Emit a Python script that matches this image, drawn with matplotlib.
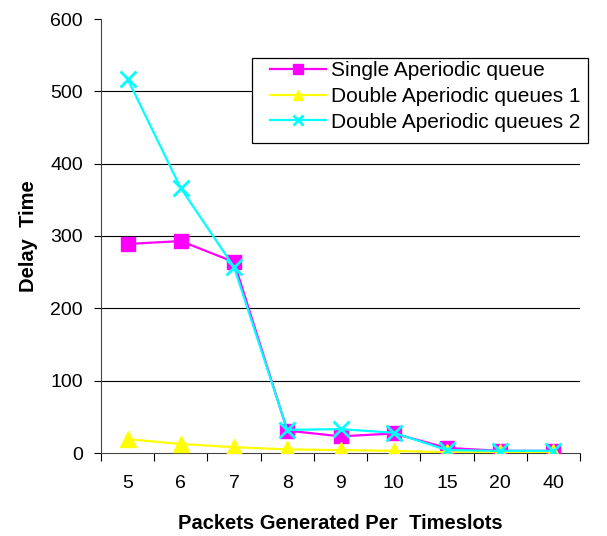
import numpy as np
import matplotlib.pyplot as plt
from matplotlib.patches import Rectangle

categories = ['5', '6', '7', '8', '9', '10', '15', '20', '40']
single_q = [289, 293, 264, 31, 23, 27, 7, 3, 3]
double_q1 = [19, 12.5, 8, 5, 4, 3, 1, 1, 1]
double_q2 = [517, 366, 257, 32, 33, 28, 4, 3, 3]

plt.rcParams['font.family'] = ['Liberation Sans', 'DejaVu Sans']

W, H = 607, 536
fig = plt.figure(figsize=(W / 100, H / 100), dpi=100)
ax = fig.add_axes([101 / W, 1 - 453 / H, 479 / W, 434 / H])

x = np.arange(len(categories))
ax.plot(x, single_q, color='#ff00ff', marker='s', markersize=10, lw=1.6,
        label='Single Aperiodic queue', zorder=3)
ax.plot(x, double_q1, color='#ffff00', marker='^', markersize=11, lw=1.6,
        label='Double Aperiodic queues 1', zorder=3)
ax.plot(x, double_q2, color='#00ffff', marker='x', markersize=11, mew=2, lw=1.6,
        label='Double Aperiodic queues 2', zorder=4)

# horizontal gridlines (none at the top)
for v in [100, 200, 300, 400, 500]:
    ax.axhline(v, color='black', lw=0.8, zorder=1)

ax.set_xlim(-0.5, len(categories) - 0.5)
ax.set_ylim(0, 600)
ax.set_yticks(np.arange(0, 601, 100))
ax.set_xticks(x)
ax.set_xticklabels(categories)
ax.set_xticks(np.arange(-0.5, len(categories)), minor=True)
ax.tick_params(axis='x', which='major', length=0, pad=16, labelsize=14)
ax.tick_params(axis='x', which='minor', length=6, direction='out', width=0.8)
ax.tick_params(axis='y', length=5, width=0.8, pad=8, labelsize=14)

for s in ['top', 'right']:
    ax.spines[s].set_visible(False)
for s in ['left', 'bottom']:
    ax.spines[s].set_linewidth(0.8)
    ax.spines[s].set_color('#444444')

ax.set_xlabel('Packets Generated Per  Timeslots', fontsize=14.5, fontweight='bold', labelpad=16)
ax.set_ylabel('Delay  Time', fontsize=14.5, fontweight='bold', labelpad=9)

# legend box
box = Rectangle((252 / W, 1 - 143 / H), 336 / W, 85 / H, transform=fig.transFigure,
                facecolor='white', edgecolor='black', lw=0.9, zorder=5, clip_on=False)
ax.add_patch(box)
leg = ax.legend(loc='upper left', bbox_to_anchor=(270 / W, 1 - 61 / H),
                bbox_transform=fig.transFigure, fontsize=15, frameon=False,
                borderpad=0, labelspacing=0.33, handlelength=2.7, handletextpad=0.25,
                borderaxespad=0)
leg.set_zorder(6)
for h in leg.legend_handles:
    h.set_markersize(7.5)

fig.savefig('out.png', dpi=100)
